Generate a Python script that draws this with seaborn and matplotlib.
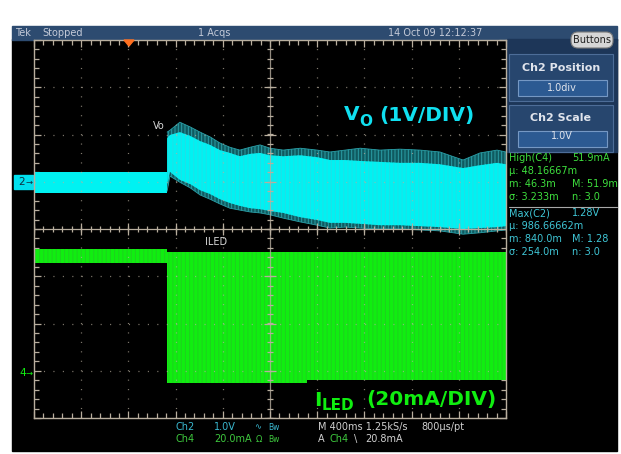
import numpy as np
import matplotlib.pyplot as plt
import seaborn as sns
from matplotlib.patches import Rectangle, FancyBboxPatch, Polygon
from matplotlib.ticker import MultipleLocator
import warnings
warnings.filterwarnings('ignore')

# screen is 10 x 8 divisions, x in div from left edge, y in div from centre
vo_pre_t = [0.0, 2.82]
vo_pre_hi = [1.20, 1.20]
vo_pre_lo = [0.76, 0.76]

vo_t = [2.82, 2.88, 3.09, 3.31, 3.52, 3.73, 3.94, 4.15, 4.36, 4.58, 4.79, 5.00, 5.28,
        5.64, 6.00, 6.27, 6.59, 6.91, 7.33, 7.75, 8.18, 8.60, 9.09, 9.45, 9.81, 10.0]
vo_hi_outer = [2.05, 2.09, 2.26, 2.16, 2.05, 1.95, 1.82, 1.73, 1.67, 1.73, 1.78, 1.71, 1.67,
               1.71, 1.67, 1.63, 1.67, 1.71, 1.67, 1.69, 1.67, 1.63, 1.46, 1.61, 1.67, 1.63]
vo_lo_outer = [0.80, 1.12, 0.99, 0.87, 0.72, 0.63, 0.53, 0.44, 0.40, 0.36, 0.34, 0.30, 0.23,
               0.15, 0.08, 0.02, 0.04, 0.02, 0.00, 0.00, -0.02, -0.04, -0.11, -0.08, -0.04, -0.02]
vo_hi_inner = [1.92, 1.99, 2.05, 1.97, 1.86, 1.78, 1.67, 1.61, 1.54, 1.59, 1.61, 1.56, 1.54,
               1.56, 1.52, 1.46, 1.46, 1.44, 1.42, 1.40, 1.40, 1.37, 1.29, 1.35, 1.40, 1.37]
vo_lo_inner = [0.93, 1.21, 1.04, 0.95, 0.82, 0.74, 0.63, 0.55, 0.49, 0.44, 0.42, 0.38, 0.34,
               0.25, 0.19, 0.13, 0.13, 0.11, 0.08, 0.08, 0.06, 0.04, 0.00, 0.02, 0.04, 0.06]

iled_t = [0.0, 2.82, 2.82, 5.78, 5.78, 10.0]
iled_hi = [-0.42, -0.42, -0.49, -0.49, -0.49, -0.49]
iled_lo = [-0.72, -0.72, -3.26, -3.26, -3.19, -3.19]

meas_c4 = ['High(C4)', '51.9mA', 'µ: 48.16667m', 'm: 46.3m', 'M: 51.9m', 'σ: 3.233m', 'n: 3.0']
meas_c2 = ['Max(C2)', '1.28V', 'µ: 986.66662m', 'm: 840.0m', 'M: 1.28', 'σ: 254.0m', 'n: 3.0']

cyan = '#00f2f2'
teal = '#2a9ea6'
green = '#10ee10'
grat = '#b8ae9e'
ui_txt = '#c4cad8'
narrow = ['Liberation Sans Narrow', 'DejaVu Sans']

sns.set_theme(style='dark')
plt.rcParams['font.family'] = ['DejaVu Sans']
plt.rcParams['lines.scale_dashes'] = False
plt.rcParams['hatch.linewidth'] = 0.7

W, H = 621, 454
fig = plt.figure(figsize=(W / 100, H / 100), dpi=100)
fig.patch.set_facecolor('white')

bg = fig.add_axes([0, 0, 1, 1], zorder=0)
bg.set_xlim(0, W)
bg.set_ylim(H, 0)
bg.axis('off')
bg.add_patch(Rectangle((12, 39), 605, 412, color='black'))
bg.add_patch(Rectangle((12, 26), 605, 14, color='#2d4b70'))
bg.add_patch(Rectangle((507, 39), 110, 113, color='#1d3658'))
for top in (54, 105):
    bg.add_patch(Rectangle((509, top), 104, 47, fc='#27466e', ec='#4d6d98', lw=0.8))
    bg.add_patch(Rectangle((518, top + 26), 89, 16, fc='#2c5a92', ec='#7598c4', lw=0.8))
bg.add_patch(FancyBboxPatch((571, 32), 42, 16, boxstyle='round,pad=0,rounding_size=7',
                            fc='#d6d6d6', ec='#7a7a7a', lw=0.8))
bg.plot([509, 617], [207, 207], color='#a8a8a8', lw=0.8)
bg.add_patch(Rectangle((14, 175), 19, 14, color='#00e0ee'))

# scope traces
ax = fig.add_axes([34 / W, 36 / H, 472 / W, 378 / H], zorder=1)
ax.set_facecolor('black')
ax.set_xlim(0, 10)
ax.set_ylim(-4, 4)

ax.fill_between(iled_t, iled_lo, iled_hi, facecolor=green, edgecolor='#1fcf1f',
                hatch='||||', lw=0)
ax.fill_between(vo_pre_t, vo_pre_lo, vo_pre_hi, color=cyan, lw=0)
ax.fill_between(vo_t, vo_lo_outer, vo_hi_outer, facecolor='#0f5a60', edgecolor=teal,
                hatch='|||||', lw=0)
ax.fill_between(vo_t, vo_lo_inner, vo_hi_inner, facecolor=cyan, edgecolor='#22dfe6',
                hatch='||||', lw=0)
sns.lineplot(x=vo_t, y=vo_hi_outer, ax=ax, color=teal, lw=0.6, estimator=None)
sns.lineplot(x=vo_t, y=vo_lo_outer, ax=ax, color=teal, lw=0.6, estimator=None)

# graticule
for i in range(1, 10):
    if i != 5:
        ax.plot([i, i], [-4, 4], color=grat, lw=0.9, ls=(0, (0.8, 6.0)), alpha=0.7)
for j in range(-3, 4):
    if j != 0:
        ax.plot([0, 10], [j, j], color=grat, lw=0.9, ls=(0, (0.8, 6.0)), alpha=0.7)
ax.axhline(0, color=grat, lw=0.9)
ax.axvline(5, color=grat, lw=0.9, alpha=0.8)
xs = np.arange(0, 10.01, 0.2)
ys = np.arange(-4, 4.01, 0.2)
ax.vlines(xs, -0.07, 0.07, color=grat, lw=0.9)
ax.hlines(ys, 5 - 0.07, 5 + 0.07, color=grat, lw=0.9)
ax.vlines(np.arange(0, 11), -0.13, 0.13, color=grat, lw=0.9)
ax.hlines(np.arange(-4, 5), 5 - 0.13, 5 + 0.13, color=grat, lw=0.9)

ax.set_xticks(range(11))
ax.set_yticks(range(-4, 5))
ax.xaxis.set_minor_locator(MultipleLocator(0.2))
ax.yaxis.set_minor_locator(MultipleLocator(0.2))
ax.tick_params(which='both', direction='in', top=True, bottom=True, left=True, right=True,
               color=grat, labelbottom=False, labelleft=False, width=0.9)
ax.tick_params(which='major', length=5)
ax.tick_params(which='minor', length=3.5)
ax.grid(False)
for s in ax.spines.values():
    s.set_color(grat)
    s.set_linewidth(1.0)

# overlay texts
ov = fig.add_axes([0, 0, 1, 1], zorder=2)
ov.set_xlim(0, W)
ov.set_ylim(H, 0)
ov.axis('off')
ov.patch.set_alpha(0)

def t(x, y, s, c=ui_txt, size=7, fam=None, ha='left', **kw):
    ov.text(x, y, s, color=c, fontsize=size, family=fam or narrow, va='center', ha=ha, **kw)

ov.add_patch(Polygon([(124, 40), (134, 40), (129, 46)], color='#ff7020'))
t(15, 33, 'Tek')
t(42, 33, 'Stopped')
t(198, 33, '1 Acqs')
t(388, 33, '14 Oct 09 12:12:37')
t(592, 40, 'Buttons', c='#202020', ha='center')
t(561, 68, 'Ch2 Position', c='#e0e4ec', size=8, fam=['DejaVu Sans'], ha='center', weight='bold')
t(562, 88, '1.0div', c='#e0e4ec', ha='center')
t(561, 118, 'Ch2 Scale', c='#e0e4ec', size=8, fam=['DejaVu Sans'], ha='center', weight='bold')
t(562, 136, '1.0V', c='#e0e4ec', ha='center')

cg, cc = '#3ee03e', '#3fc6d6'
t(509, 158, meas_c4[0], c=cg)
t(572, 158, meas_c4[1], c=cg)
t(509, 171, meas_c4[2], c=cg)
t(509, 184, meas_c4[3], c=cg)
t(572, 184, meas_c4[4], c=cg)
t(509, 197, meas_c4[5], c=cg)
t(572, 197, meas_c4[6], c=cg)
t(509, 213, meas_c2[0], c=cc)
t(572, 213, meas_c2[1], c=cc)
t(509, 226, meas_c2[2], c=cc)
t(509, 239, meas_c2[3], c=cc)
t(572, 239, meas_c2[4], c=cc)
t(509, 252, meas_c2[5], c=cc)
t(572, 252, meas_c2[6], c=cc)

t(18, 182, '2', c='#103040', size=7.5)
t(25, 182, '→', c='#103040', size=6, fam=['DejaVu Sans'])
t(19, 373, '4', c=green, size=7.5)
t(26, 373, '→', c=green, size=6, fam=['DejaVu Sans'])

t(153, 126, 'Vo', c='#d8d8d8')
t(205, 242, 'ILED', c='#d8d8d8')

bold = ['DejaVu Sans']
t(344, 115, 'V', c='#10e0f0', size=14.5, fam=bold, weight='bold')
t(359, 121, 'O', c='#10e0f0', size=11, fam=bold, weight='bold')
t(379, 115, '(1V/DIV)', c='#10e0f0', size=14.5, fam=bold, weight='bold')
t(314, 400, 'I', c=green, size=14.5, fam=bold, weight='bold')
t(322, 405, 'LED', c=green, size=11, fam=bold, weight='bold')
t(366, 400, '(20mA/DIV)', c=green, size=14.5, fam=bold, weight='bold')

t(176, 427, 'Ch2', c='#3ab8d0')
t(214, 427, '1.0V', c='#3ab8d0')
t(254, 427, '∿', c='#3ab8d0', fam=['DejaVu Sans'], size=6)
t(268, 427, 'Bw', c='#3ab8d0', size=5.5)
t(176, 439, 'Ch4', c='#3ec83e')
t(214, 439, '20.0mA', c='#3ec83e')
t(256, 439, 'Ω', c='#3ec83e', fam=['DejaVu Sans'], size=6)
t(268, 439, 'Bw', c='#3ec83e', size=5.5)
t(318, 427, 'M 400ms 1.25kS/s', c='#d0d0d0')
t(421, 427, '800µs/pt', c='#d0d0d0')
t(318, 439, 'A', c='#d0d0d0')
t(329, 439, 'Ch4', c='#3ec83e')
t(354, 439, '\\', c='#d0d0d0')
t(365, 439, '20.8mA', c='#d0d0d0')

plt.savefig('out.png', dpi=100)
